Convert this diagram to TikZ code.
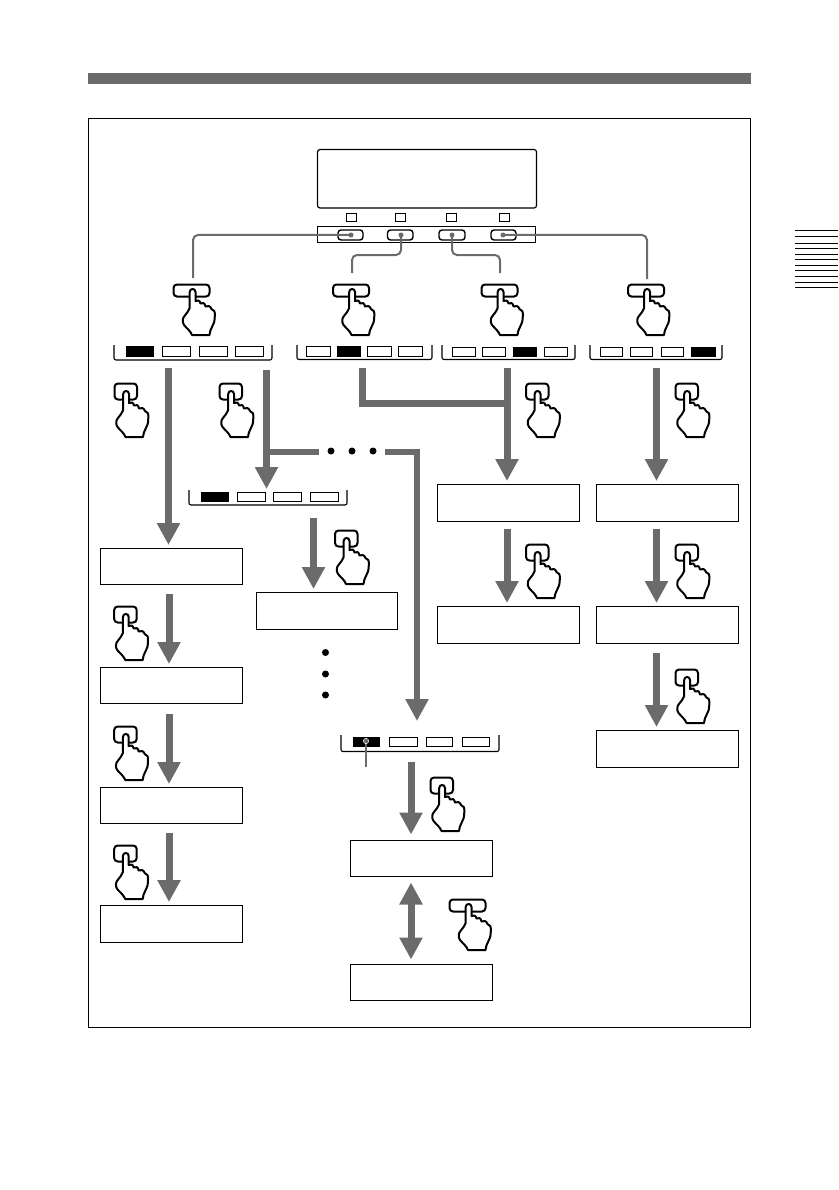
\documentclass[tikz,border=0pt]{standalone}
\usetikzlibrary{arrows.meta}
\definecolor{flowgray}{gray}{0.42}
\tikzset{
  frameline/.style={draw=black,line width=0.9pt},
  boxnode/.style={draw=black,line width=0.95pt,fill=white,inner sep=0pt,outer sep=0pt},
  cellline/.style={draw=black,line width=0.8pt,fill=white},
  cellblack/.style={draw=black,line width=0.8pt,fill=black},
  bracketline/.style={draw=black,line width=1.1pt,rounded corners=2pt},
  thin connector/.style={draw=flowgray,line width=2pt,rounded corners=5pt},
  flowarrow/.style={draw=flowgray,line width=7pt,-{Triangle[width=22pt,length=22pt,flowgray]},shorten >=3.5pt},
  flowboth/.style={draw=flowgray,line width=7pt,{Triangle[width=22pt,length=22pt,flowgray]}-{Triangle[width=22pt,length=22pt,flowgray]},shorten >=5pt,shorten <=6pt},
  flowline/.style={draw=flowgray,line width=7pt},
  flowbranch/.style={draw=flowgray,line width=6pt},
  handline/.style={draw=black,line width=2pt,fill=white,line join=round},
  buttonline/.style={draw=black,line width=2pt,fill=white,rounded corners=3.5pt},
  dotnode/.style={circle,fill=black,inner sep=0pt,outer sep=0pt,minimum size=7pt},
  jointdot/.style={circle,fill=flowgray,inner sep=0pt,outer sep=0pt,minimum size=5pt},
  handshape/.pic={
    \path[handline] (-2.8,18) -- (-2.8,2) .. controls (-2.8,-2) and (3,-2) .. (3,2) -- (3,11)
      .. controls (5,9.5) and (7.5,10.5) .. (8,13.5)
      .. controls (10,12) and (12.5,13) .. (13,16.5)
      .. controls (15,15) and (18,16) .. (19,19)
      .. controls (22,19.5) and (22.5,22) .. (22.3,26)
      .. controls (22.2,31) and (21.5,34) .. (19.5,37)
      .. controls (18,39) and (17.5,42) .. (17,45)
      -- (-0.5,45)
      .. controls (-2,41) and (-6,38) .. (-8.5,35)
      .. controls (-10.5,32) and (-10,28) .. (-8,26)
      .. controls (-6,23) and (-3.5,21) .. (-2.8,18) -- cycle;
  },
  handwide/.pic={
    \path[buttonline] (-19,-5.5) rectangle (17,6.5);
    \pic {handshape};
  },
  handsquare/.pic={
    \path[buttonline] (-11.5,-8.5) rectangle (11,7.5);
    \pic {handshape};
  },
}
\newcommand{\flowbox}[5]{%
  \pgfmathsetmacro{\bw}{#4-#2-1}\pgfmathsetmacro{\bh}{#5-#3-1}%
  \pgfmathsetmacro{\bcx}{(#2+#4)/2}\pgfmathsetmacro{\bcy}{(#3+#5)/2}%
  \node[boxnode,minimum width=\bw pt,minimum height=\bh pt] (#1) at (\bcx,\bcy) {};}
\newcommand{\menustrip}[4]{%
  \draw[bracketline] (#1,#3) -- (#1,#4) -- (#2,#4) -- (#2,#3);}
\newcommand{\menucell}[5]{%
  \path[#1] (#2,#4) rectangle (#3,#5);}
\begin{document}
\begin{tikzpicture}[x=1pt,y=-1pt]
\useasboundingbox (0,0) rectangle (838,1190);
\fill[flowgray] (88,73) rectangle (751,84);
\draw[frameline] (88.5,118.5) rectangle (750.5,1027.5);
% side tab
\foreach \yy in {231,237,243.3,248.3,254.3,259.3,265.3,270.3,276.3,282.3,287.3}
  \draw[black,line width=1pt] (795,\yy) -- (838,\yy);
% screen
\draw[black,line width=1.2pt,rounded corners=2.5pt] (317.5,149.5) rectangle (536.5,208);
\foreach \xx in {346,395.5,446,499.5}
  \draw[black,line width=0.8pt] (\xx,213.5) rectangle ++(10,8);
\draw[black,line width=0.9pt] (317.5,226.5) rectangle (535.5,242.5);
\foreach \xx/\xy in {338/363,387.5/413,439/465,491/516}
  \draw[black,line width=1.4pt,rounded corners=3pt] (\xx,230) rectangle (\xy,240);
\node[jointdot] (top1) at (351,235) {};
\node[jointdot] (top2) at (401,235) {};
\node[jointdot] (top3) at (452,235) {};
\node[jointdot] (top4) at (503,235) {};
\coordinate (c1) at (193,278);
\coordinate (c2) at (352,273);
\coordinate (c3) at (500,273);
\coordinate (c4) at (647,279);
\draw[thin connector] (top1.center) -| (c1);
\draw[thin connector] (top2.center) -- (401,255) -- (352,255) -- (c2);
\draw[thin connector] (top3.center) -- (452,255) -- (500,255) -- (c3);
\draw[thin connector] (top4.center) -| (c4);
% hands on top row
\pic at (192.5,290) {handwide};
\pic at (352,290) {handwide};
\pic at (500.5,290) {handwide};
\pic at (647,290) {handwide};
% strips
\menustrip{114}{272}{345}{360}
\menucell{cellblack}{126}{153}{346}{356}
\menucell{cellline}{162}{190}{346}{356}
\menucell{cellline}{199}{227}{346}{356}
\menucell{cellline}{235}{263}{346}{356}
\menustrip{297}{432}{345}{359.5}
\menucell{cellline}{306.5}{330}{346}{356}
\menucell{cellblack}{337}{360}{346}{356}
\menucell{cellline}{367}{391}{346}{356}
\menucell{cellline}{398}{422}{346}{356}
\menustrip{442}{575}{345}{359.5}
\menucell{cellline}{452}{475}{347}{356}
\menucell{cellline}{482}{505}{347}{356}
\menucell{cellblack}{513}{536}{347}{356}
\menucell{cellline}{544}{567}{347}{356}
\menustrip{590}{722}{345}{359.5}
\menucell{cellline}{600}{622}{347}{356}
\menucell{cellline}{630}{652}{347}{356}
\menucell{cellline}{661}{683}{347}{356}
\menucell{cellblack}{691}{715}{347}{356}
\menustrip{189}{347}{490}{505}
\menucell{cellblack}{201}{228}{492}{501}
\menucell{cellline}{237}{265}{492}{501}
\menucell{cellline}{273}{301}{492}{501}
\menucell{cellline}{310}{338}{492}{501}
\menustrip{341}{499}{735}{751.5}
\menucell{cellblack}{353}{379}{737}{746}
\menucell{cellline}{389}{417}{737}{746}
\menucell{cellline}{426}{452}{737}{746}
\menucell{cellline}{462}{489}{737}{746}
% pointer
\draw[flowgray,line width=1.6pt] (366,741) -- (366,767);
\draw[flowgray,line width=1pt,fill=flowgray] (366,741) circle (1.8pt);
\draw[white,line width=0.6pt] (366,741) circle (2.6pt);
% boxes
\flowbox{B1}{100}{548}{243}{585}
\flowbox{B2}{100}{667}{243}{704}
\flowbox{B3}{100}{787}{243}{824}
\flowbox{B4}{100}{905}{243}{943}
\flowbox{C1}{256}{592}{398}{630}
\flowbox{D1}{437}{484}{580}{522}
\flowbox{D2}{437}{606}{580}{644}
\flowbox{E1}{596}{484}{739}{522}
\flowbox{E2}{596}{606}{739}{644}
\flowbox{E3}{596}{730}{739}{768}
\flowbox{F1}{350}{840}{493}{877}
\flowbox{F2}{350}{964}{493}{1001}
% arrow start coordinates
\coordinate (a1) at (168.5,368);
\coordinate (a2) at (266.5,370);
\coordinate (a2t) at (266.5,492.5);
\coordinate (a3) at (362.5,368);
\coordinate (a3j) at (362.5,403);
\coordinate (a4) at (507,368);
\coordinate (a5) at (656.5,368);
\coordinate (a6) at (313.5,518);
\coordinate (b1) at (169,594);
\coordinate (b2) at (169,714);
\coordinate (b3) at (169,833);
\coordinate (d1) at (507,529);
\coordinate (e1) at (656.5,529);
\coordinate (e2) at (656.5,653);
\coordinate (f0) at (411,762);
\coordinate (g1) at (268,451.7);
\coordinate (g2) at (319,451.7);
\coordinate (g3) at (385,451.7);
\coordinate (g4) at (417,451.7);
\coordinate (g5) at (417,724);
\draw[flowarrow] (a1) -- (a1 |- B1.north);
\draw[flowarrow] (a2) -- (a2t);
\draw[flowbranch] (g1) -- (g2);
\draw[flowbranch,-{Triangle[width=22pt,length=22pt,flowgray]},shorten >=3pt] (g3) -- (g4) -- (g5);
\draw[flowline] (a3) -- (a3j) -- (a3j -| a4);
\draw[flowarrow] (a4) -- (a4 |- D1.north);
\draw[flowarrow] (a5) -- (a5 |- E1.north);
\draw[flowarrow] (a6) -- (a6 |- C1.north);
\draw[flowarrow] (b1) -- (b1 |- B2.north);
\draw[flowarrow] (b2) -- (b2 |- B3.north);
\draw[flowarrow] (b3) -- (b3 |- B4.north);
\draw[flowarrow] (d1) -- (d1 |- D2.north);
\draw[flowarrow] (e1) -- (e1 |- E2.north);
\draw[flowarrow] (e2) -- (e2 |- E3.north);
\draw[flowarrow,shorten >=6pt] (f0) -- (f0 |- F1.north);
\draw[flowboth] (f0 |- F1.south) -- (f0 |- F2.north);
% dots
\node[dotnode] (dh1) at (331,451) {};
\node[dotnode] (dh2) at (352,451) {};
\node[dotnode] (dh3) at (373,451) {};
\node[dotnode] (dv1) at (325.5,652.5) {};
\node[dotnode] (dv2) at (325.5,674) {};
\node[dotnode] (dv3) at (325.5,695) {};
% hands
\pic at (126,392) {handsquare};
\pic at (231,392) {handsquare};
\pic at (537.5,392) {handsquare};
\pic at (687,392) {handsquare};
\pic at (346.5,539) {handsquare};
\pic at (125.7,615) {handsquare};
\pic at (125.7,735) {handsquare};
\pic at (125.7,854) {handsquare};
\pic at (537.5,553) {handsquare};
\pic at (687,553) {handsquare};
\pic at (687,678) {handsquare};
\pic at (442,786) {handsquare};
\pic at (468.5,905) {handwide};
\end{tikzpicture}
\end{document}
